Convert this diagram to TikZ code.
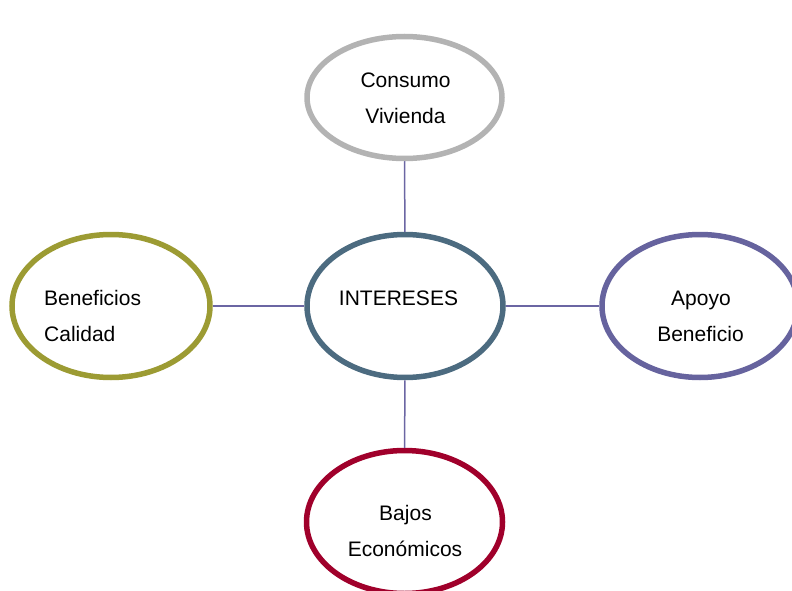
\documentclass[tikz,border=0pt]{standalone}
\usepackage{fontspec}
\setmainfont{Liberation Sans}
\usetikzlibrary{shapes.geometric}
\definecolor{cgray}{HTML}{B3B3B3}
\definecolor{colive}{HTML}{9C9B33}
\definecolor{cblue}{HTML}{4C6B80}
\definecolor{cviolet}{HTML}{66639E}
\definecolor{cred}{HTML}{A0002B}
\definecolor{clink}{HTML}{6B66A3}
\tikzset{
  bubble/.style={draw=#1, ellipse, line width=5.5pt, inner sep=0pt, fill=white},
  txt/.style={anchor=base, inner sep=0pt, font=\fontsize{21}{25}\selectfont},
  txtl/.style={anchor=base west, inner sep=0pt, font=\fontsize{21}{25}\selectfont},
  link/.style={draw=clink, line width=1.5pt}
}
\begin{document}
\begin{tikzpicture}[x=1pt,y=-1pt]
\useasboundingbox (0,0) rectangle (792,591);
\node[bubble=cgray, minimum width=195pt, minimum height=122pt] (top) at (404.5,97.5) {};
\node[bubble=cblue, minimum width=196pt, minimum height=143pt] (ctr) at (405,306) {};
\node[bubble=colive, minimum width=198pt, minimum height=143pt] (lft) at (111,306) {};
\node[bubble=cviolet, minimum width=196pt, minimum height=143pt] (rgt) at (700,306) {};
\node[bubble=cred, minimum width=196pt, minimum height=143pt] (bot) at (404.5,522) {};
\draw[link] (top) -- (ctr);
\draw[link] (lft) -- (ctr);
\draw[link] (ctr) -- (rgt);
\draw[link] (ctr) -- (bot);
\node[txt] (t1a) at (405.5,88) {Consumo};
\node[txt] (t1b) at (405.5,124) {Vivienda};
\node[txtl] (t2a) at (44,305.5) {Beneficios};
\node[txtl] (t2b) at (44,341) {Calidad};
\node[txt] (t3) at (398.5,305) {INTERESES};
\node[txt] (t4a) at (701,305.5) {Apoyo};
\node[txt] (t4b) at (700.5,341) {Beneficio};
\node[txt] (t5a) at (405.5,520.5) {Bajos};
\node[txt] (t5b) at (405,556.5) {Económicos};
\end{tikzpicture}
\end{document}
